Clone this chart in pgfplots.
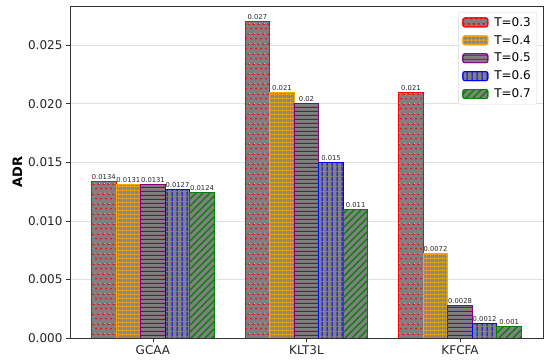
\documentclass[border=0pt]{standalone}
\usepackage{pgfplots}
\pgfplotsset{compat=1.18}
\usepackage{fontspec}
\setmainfont{DejaVu Sans}
\usetikzlibrary{patterns}
\definecolor{cred}{RGB}{255,0,0}
\definecolor{corange}{RGB}{255,165,0}
\definecolor{cpurple}{RGB}{128,0,128}
\definecolor{cblue}{RGB}{0,0,255}
\definecolor{cgreen}{RGB}{0,128,0}
\definecolor{cgray}{RGB}{128,128,128}
\pgfdeclarepatterninherentlycolored{reddots}{\pgfpointorigin}{\pgfqpoint{5pt}{10pt}}{\pgfqpoint{5pt}{10pt}}{%
  \pgfsetfillcolor{cred}%
  \pgfpathcircle{\pgfqpoint{1.25pt}{2.5pt}}{1.1pt}%
  \pgfpathcircle{\pgfqpoint{3.75pt}{7.5pt}}{1.1pt}%
  \pgfusepath{fill}}
\pgfdeclarepatterninherentlycolored{orangegrid}{\pgfpointorigin}{\pgfqpoint{4.2pt}{4.2pt}}{\pgfqpoint{4.2pt}{4.2pt}}{%
  \pgfsetstrokecolor{corange}\pgfsetlinewidth{1pt}%
  \pgfpathmoveto{\pgfqpoint{0pt}{2.1pt}}\pgfpathlineto{\pgfqpoint{4.2pt}{2.1pt}}%
  \pgfpathmoveto{\pgfqpoint{2.1pt}{0pt}}\pgfpathlineto{\pgfqpoint{2.1pt}{4.2pt}}%
  \pgfusepath{stroke}}
\pgfdeclarepatterninherentlycolored{purplehlines}{\pgfpointorigin}{\pgfqpoint{4pt}{4pt}}{\pgfqpoint{4pt}{4pt}}{%
  \pgfsetstrokecolor{cpurple}\pgfsetlinewidth{1.1pt}%
  \pgfpathmoveto{\pgfqpoint{0pt}{2pt}}\pgfpathlineto{\pgfqpoint{4pt}{2pt}}%
  \pgfusepath{stroke}}
\pgfdeclarepatterninherentlycolored{bluevlines}{\pgfpointorigin}{\pgfqpoint{5pt}{5pt}}{\pgfqpoint{5pt}{5pt}}{%
  \pgfsetstrokecolor{cblue}\pgfsetlinewidth{1.1pt}%
  \pgfpathmoveto{\pgfqpoint{2.5pt}{0pt}}\pgfpathlineto{\pgfqpoint{2.5pt}{5pt}}%
  \pgfusepath{stroke}}
\pgfdeclarepatterninherentlycolored{greendiag}{\pgfqpoint{-1pt}{-1pt}}{\pgfqpoint{8pt}{8pt}}{\pgfqpoint{7pt}{7pt}}{%
  \pgfsetstrokecolor{cgreen}\pgfsetlinewidth{1.1pt}%
  \pgfpathmoveto{\pgfqpoint{0pt}{0pt}}\pgfpathlineto{\pgfqpoint{7.1pt}{7.1pt}}%
  \pgfusepath{stroke}}
\begin{document}
\begin{tikzpicture}
\begin{axis}[
  at={(0,0)}, anchor=south west,
  scale only axis, width=473pt, height=332pt,
  xmin=-0.54, xmax=2.54, ymin=0, ymax=0.02835,
  xtick={0,1,2}, xticklabels={GCAA,KLT3L,KFCFA},
  ytick={0,0.005,0.010,0.015,0.020,0.025},
  scaled y ticks=false,
  yticklabel style={/pgf/number format/.cd, fixed, fixed zerofill, precision=3},
  /pgf/number format/assume math mode=true,
  tick label style={font=\fontsize{12}{14}\selectfont, text=black!85},
  ylabel={\textbf{ADR}},
  ylabel style={font=\fontsize{13}{15}\selectfont, yshift=-1pt},
  ymajorgrids, major grid style={black!12, line width=0.6pt},
  tick align=outside, xtick pos=bottom, ytick pos=left,
  major tick length=4pt,
  tick style={black!80, line width=0.6pt},
  axis line style={black!80, line width=0.6pt},
  ybar, bar width=0.16,
  point meta=y,
  nodes near coords={\pgfmathprintnumber[fixed,precision=4,assume math mode=true]{\pgfplotspointmeta}},
  every node near coord/.append style={font=\fontsize{6.8}{8}\selectfont, text=black!85, inner sep=1.5pt},
  legend image code/.code={\draw[#1] (0pt,-4.5pt) rectangle (25pt,4.5pt);},
  legend style={at={(1,1)}, anchor=north east, xshift=-6pt, yshift=-6pt,
    draw=black!15, rounded corners=2pt, font=\fontsize{12}{14}\selectfont,
    inner xsep=4pt, inner ysep=3pt, row sep=3.5pt,
    /tikz/every odd column/.append style={column sep=4pt}},
  legend cell align=left,
]
\addplot[bar shift=-0.32, draw=cred, line width=0.9pt, fill=cgray,
  postaction={pattern=reddots}]
  coordinates {(0,0.0134) (1,0.027) (2,0.021)};
\addplot[bar shift=-0.16, draw=corange, line width=0.9pt, fill=cgray,
  postaction={pattern=orangegrid}]
  coordinates {(0,0.0131) (1,0.021) (2,0.0072)};
\addplot[bar shift=0, draw=cpurple, line width=0.9pt, fill=cgray,
  postaction={pattern=purplehlines}]
  coordinates {(0,0.0131) (1,0.02) (2,0.0028)};
\addplot[bar shift=0.16, draw=cblue, line width=0.9pt, fill=cgray,
  postaction={pattern=bluevlines}]
  coordinates {(0,0.0127) (1,0.015) (2,0.0012)};
\addplot[bar shift=0.32, draw=cgreen, line width=0.9pt, fill=cgray,
  postaction={pattern=greendiag}]
  coordinates {(0,0.0124) (1,0.011) (2,0.001)};
\legend{T=0.3,T=0.4,T=0.5,T=0.6,T=0.7}
\end{axis}
\pgfresetboundingbox
\path (-70pt,-23pt) rectangle (480pt,338pt);
\end{tikzpicture}
\end{document}
